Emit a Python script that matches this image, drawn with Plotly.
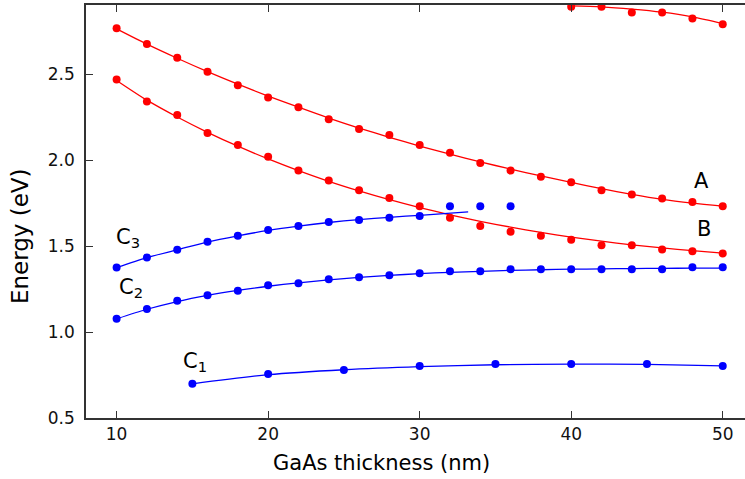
import plotly.graph_objects as go

# ---- data ----
thick_even = [10, 12, 14, 16, 18, 20, 22, 24, 26, 28, 30, 32, 34, 36, 38, 40, 42, 44, 46, 48, 50]
A_energy = [2.768, 2.677, 2.597, 2.516, 2.437, 2.366, 2.309, 2.239, 2.182, 2.147, 2.089, 2.044,
            1.985, 1.940, 1.905, 1.872, 1.825, 1.801, 1.778, 1.757, 1.733]
A_fit_energy = [2.765, 2.676, 2.594, 2.516, 2.443, 2.374, 2.309, 2.246, 2.188, 2.134, 2.083, 2.036,
                1.991, 1.949, 1.909, 1.871, 1.835, 1.802, 1.773, 1.751, 1.733]
B_energy = [2.470, 2.343, 2.263, 2.159, 2.089, 2.020, 1.940, 1.882, 1.825, 1.780, 1.733, 1.665,
            1.618, 1.584, 1.561, 1.538, 1.505, 1.505, 1.481, 1.470, 1.458]
B_fit_energy = [2.465, 2.350, 2.252, 2.163, 2.082, 2.008, 1.940, 1.878, 1.822, 1.771, 1.725, 1.683,
                1.645, 1.611, 1.580, 1.553, 1.529, 1.508, 1.490, 1.474, 1.460]

top_x = [40, 42, 44, 46, 48, 50]
top_energy = [2.894, 2.894, 2.861, 2.861, 2.825, 2.792]
top_fit_energy = [2.899, 2.893, 2.880, 2.862, 2.835, 2.796]

C3_x = [10, 12, 14, 16, 18, 20, 22, 24, 26, 28, 30, 32, 34, 36]
C3_energy = [1.376, 1.434, 1.479, 1.526, 1.561, 1.594, 1.618, 1.641, 1.653, 1.665, 1.676,
             1.733, 1.733, 1.733]
C3_fit_x = [10, 12, 14, 16, 18, 20, 22, 24, 26, 28, 30, 33.2]
C3_fit_energy = [1.376, 1.434, 1.479, 1.524, 1.560, 1.592, 1.617, 1.638, 1.655, 1.668, 1.680, 1.700]

C2_energy = [1.077, 1.135, 1.182, 1.215, 1.241, 1.272, 1.285, 1.307, 1.319, 1.331, 1.342, 1.354,
             1.354, 1.366, 1.366, 1.366, 1.366, 1.366, 1.366, 1.377, 1.377]
C2_fit_energy = [1.077, 1.133, 1.178, 1.214, 1.243, 1.267, 1.287, 1.304, 1.318, 1.330, 1.340, 1.348,
                 1.354, 1.359, 1.363, 1.366, 1.368, 1.370, 1.371, 1.372, 1.372]

C1_x = [15, 20, 25, 30, 35, 40, 45, 50]
C1_energy = [0.699, 0.756, 0.780, 0.803, 0.815, 0.815, 0.815, 0.803]
C1_fit_energy = [0.699, 0.752, 0.781, 0.799, 0.810, 0.814, 0.812, 0.803]

x_ticks = [10, 20, 30, 40, 50]
y_ticks = [0.5, 1.0, 1.5, 2.0, 2.5]
y_tick_text = ["0.5", "1.0", "1.5", "2.0", "2.5"]

labels = ["A", "B", "C<sub>3</sub>", "C<sub>2</sub>", "C<sub>1</sub>"]
label_x = [48.6, 48.75, 10.75, 10.95, 15.2]
label_y = [1.877, 1.60, 1.545, 1.255, 0.825]

RED = "#ff0000"
BLUE = "#0000ff"
FONT = "DejaVu Sans"

fig = go.Figure()


def add_line(x, y, color):
    fig.add_trace(go.Scatter(x=x, y=y, mode="lines",
                             line=dict(color=color, width=1.3, shape="spline", smoothing=0.8),
                             hoverinfo="skip", showlegend=False))


def add_pts(x, y, color):
    fig.add_trace(go.Scatter(x=x, y=y, mode="markers",
                             marker=dict(color=color, size=8, line=dict(width=0)),
                             showlegend=False))


add_line(thick_even, A_fit_energy, RED)
add_line(thick_even, B_fit_energy, RED)
add_line(top_x, top_fit_energy, RED)
add_line(C3_fit_x, C3_fit_energy, BLUE)
add_line(thick_even, C2_fit_energy, BLUE)
add_line(C1_x, C1_fit_energy, BLUE)

add_pts(thick_even, A_energy, RED)
add_pts(thick_even, B_energy, RED)
add_pts(top_x, top_energy, RED)
add_pts(C3_x, C3_energy, BLUE)
add_pts(thick_even, C2_energy, BLUE)
add_pts(C1_x, C1_energy, BLUE)

for t, lx, ly in zip(labels, label_x, label_y):
    fig.add_annotation(x=lx, y=ly, text=t, showarrow=False, xanchor="center", yanchor="middle",
                       font=dict(family=FONT, size=21, color="#000000"))

fig.add_annotation(xref="paper", yref="paper", x=(381 - 86) / 659, y=-0.11, text="GaAs thickness (nm)",
                   showarrow=False, xanchor="center", yanchor="middle",
                   font=dict(family=FONT, size=21, color="#000000"))
fig.add_annotation(xref="paper", yref="paper", x=-0.1, y=(418 - 236) / 413, text="Energy (eV)",
                   textangle=-90, showarrow=False, xanchor="center", yanchor="middle",
                   font=dict(family=FONT, size=23, color="#000000"))

axis_common = dict(showgrid=False, zeroline=False, showline=True, linecolor="#333333", linewidth=1.5,
                   ticks="inside", ticklen=7, tickwidth=1.2, tickcolor="#333333",
                   tickfont=dict(family=FONT, size=17, color="#111111"))

fig.update_layout(
    width=745, height=479,
    margin=dict(l=86, r=0, t=5, b=61),
    paper_bgcolor="white", plot_bgcolor="white",
    xaxis=dict(range=[7.98, 51.47], tickvals=x_ticks, mirror="ticks", **axis_common),
    yaxis=dict(range=[0.5, 2.904], tickvals=y_ticks, ticktext=y_tick_text, mirror=False,
               ticklabelstandoff=6, **axis_common),
)

fig.write_html("out.html", config={"displayModeBar": False},
               post_script="document.body.style.margin='0';document.body.style.overflow='hidden';")
